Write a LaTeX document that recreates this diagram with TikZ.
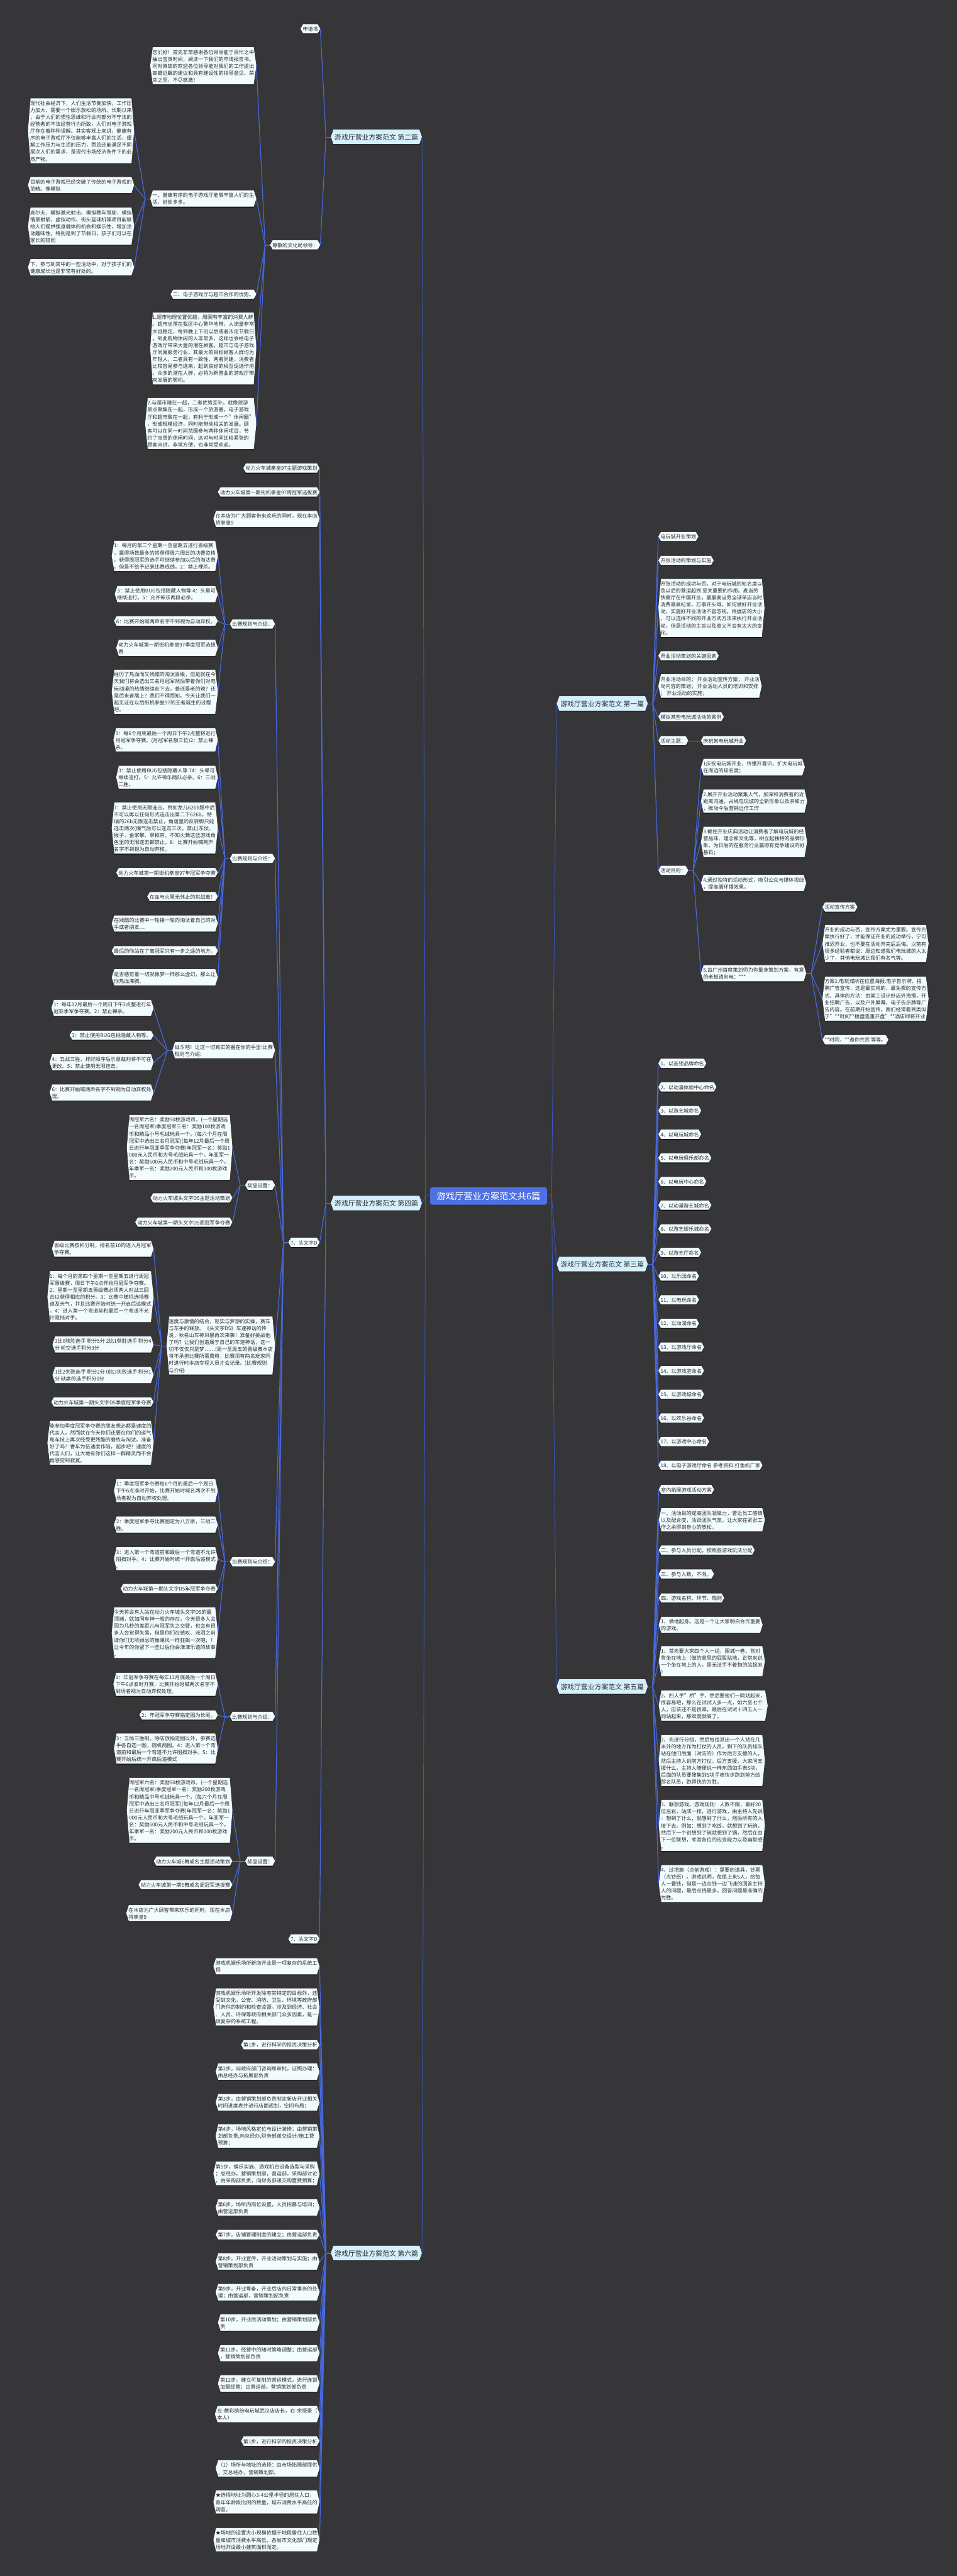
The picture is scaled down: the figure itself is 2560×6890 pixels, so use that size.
\documentclass[tikz,border=0pt]{standalone}
\usepackage{fontspec}
\setmainfont{Noto Sans CJK SC}
\usetikzlibrary{calc}
\definecolor{bg}{RGB}{54,54,56}
\definecolor{conn}{RGB}{72,104,222}
\definecolor{conn0}{RGB}{58,86,200}
\definecolor{leaf}{RGB}{242,251,254}
\definecolor{br}{RGB}{212,240,252}
\definecolor{ctr}{RGB}{78,112,226}
\definecolor{tx}{RGB}{45,45,45}
\definecolor{shd}{RGB}{18,18,18}
\tikzset{
 hexfill/.style={fill=bg, path picture={
   \fill[shd] ([xshift=7pt]path picture bounding box.north west) -- ([xshift=-7pt]path picture bounding box.north east) -- (path picture bounding box.east) -- ([xshift=-7pt]path picture bounding box.south east) -- ([xshift=7pt]path picture bounding box.south west) -- (path picture bounding box.west) -- cycle;
   \fill[#1] ([xshift=7pt]path picture bounding box.north west) -- ([xshift=-7pt]path picture bounding box.north east) -- ([yshift=1pt]path picture bounding box.east) -- ([xshift=-7pt,yshift=2pt]path picture bounding box.south east) -- ([xshift=7pt,yshift=2pt]path picture bounding box.south west) -- ([yshift=1pt]path picture bounding box.west) -- cycle;
 }},
 leafn/.style={hexfill=leaf, text=tx, font=\fontsize{13.6}{18.65}\selectfont, align=left, inner xsep=6pt, inner ysep=7pt},
 brn/.style={hexfill=br, text=tx, font=\fontsize{18.3}{22}\selectfont, inner xsep=10pt, inner ysep=12pt},
 ctrn/.style={fill=ctr, rounded corners=6pt, text=white, font=\fontsize{24}{28}\selectfont, inner xsep=18pt, inner ysep=12pt},
 cl/.style={draw=conn, line width=2pt},
 cl0/.style={draw=conn0, line width=1.5pt},
}
\newcommand\LN[4]{\node[leafn,anchor=east] (#1) at (#2,#3) {#4};}
\newcommand\RN[4]{\node[leafn,anchor=west] (#1) at (#2,#3) {#4};}
\newcommand\fanL[2]{\draw[cl] (#1.west) -- ++(-13,0) coordinate (F#1); \foreach \c in {#2}{\draw[cl] (F#1) -- (\c.east);}}
\newcommand\fanR[2]{\draw[cl] (#1.east) -- ++(13,0) coordinate (F#1); \foreach \c in {#2}{\draw[cl] (F#1) -- (\c.west);}}
\begin{document}
\begin{tikzpicture}[x=1pt,y=-1pt]
\fill[bg] (0,0) rectangle (2560,6890);
\useasboundingbox (0,0) rectangle (2560,6890);
% center and branches
\node[ctrn] (c) at (1307,3199) {游戏厅营业方案范文共6篇};
\node[brn,anchor=east] (b2) at (1129,367) {游戏厅营业方案范文 第二篇};
\node[brn,anchor=east] (b4) at (1129,3219) {游戏厅营业方案范文 第四篇};
\node[brn,anchor=east] (b6) at (1129,6027) {游戏厅营业方案范文 第六篇};
\node[brn,anchor=west] (b1) at (1489,1883) {游戏厅营业方案范文 第一篇};
\node[brn,anchor=west] (b3) at (1489,3382) {游戏厅营业方案范文 第三篇};
\node[brn,anchor=west] (b5) at (1489,4512) {游戏厅营业方案范文 第五篇};
% ---- 第二篇
\LN{a1}{857}{78}{申请书}
\LN{a2}{857}{656}{尊敬的文化局领导：}
\LN{a21}{686}{177}{您们好！首先非常感谢各位领导能于百忙之中\\抽出宝贵时间，阅读一下我们的申请报告书。\\同时真挚的欢迎各位领导能对我们的工作提出\\高瞻远瞩的建议和具有建设性的指导意见，荣\\幸之至，不尽感激！}
\LN{a22}{686}{532}{一、健康有序的电子游戏厅能够丰富人们的生\\活，好处多多。}
\LN{a23}{686}{788}{二、电子游戏厅与超市合作的优势。}
\LN{a24}{686}{933}{1.超市地理位置优越，周围有丰富的消费人群\\。超市坐落在我区中心繁华地带，人流量非常\\大且稳定，每到晚上下班以后或者法定节假日\\，到此购物休闲的人非常多，这样也会给电子\\游戏厅带来大量的潜在顾客。超市与电子游戏\\厅同属服务行业，其最大的目标顾客人群均为\\年轻人，二者具有一致性，两者同建，消费者\\比较容易参与进来，起到良好的相互促进作用\\。众多的潜在人群，必将为新营业的游戏厅带\\来发展的契机。}
\LN{a25}{686}{1134}{2.与超市建在一起，二者优势互补。就像旅游\\景点聚集在一起，形成一个旅游圈。电子游戏\\厅和超市聚在一起，有利于形成一个"休闲圈"\\，形成规模经济，同时能带动相关的发展。顾\\客可以在同一时间范围参与两种休闲项目，节\\约了宝贵的休闲时间，这对与时间比较紧张的\\顾客来讲，非常方便，也非常受欢迎。}
\LN{a221}{359}{351}{现代社会经济下，人们生活节奏加快，工作压\\力加大，需要一个娱乐放松的场所。长期以来\\，由于人们的惯性思维和行业内部分不守法的\\经营者的不法经营行为所致，人们对电子游戏\\厅存在着种种误解。其实客观上来讲，健康有\\序的电子游戏厅不仅能够丰富人们的生活，缓\\解工作压力与生活的压力，而且还能满足不同\\层次人们的需求，是现代市场经济条件下的必\\然产物。}
\LN{a222}{359}{496}{目前的电子游戏已经突破了传统的电子游戏的\\范畴。像模拟}
\LN{a223}{359}{606}{高尔夫、模拟激光射击、模拟赛车驾驶、模拟\\情景射箭、虚拟动作、街头篮球机等项目能够\\给人们提供强身健体的机会和娱乐性，增加活\\动趣味性。特别是到了节假日，孩子们可以在\\家长的陪同}
\LN{a224}{359}{716}{下，参与到其中的一些活动中，对于孩子们的\\健康成长也是非常有好处的。}
% ---- 第四篇
\LN{d1}{855}{1253}{动力火车城拳皇97主题游戏策划}
\LN{d2}{855}{1317}{动力火车城第一期街机拳皇97周冠军选拔赛}
\LN{d3}{855}{1389}{在本店为广大顾客带来欢乐的同时，现在本店\\将拳皇9}
\LN{d4}{855}{3324}{7、头文字D}
\LN{d5}{855}{5187}{7、头文字D}
\LN{r1}{736}{1670}{比赛规则与介绍：}
\LN{r2}{736}{2297}{比赛规则与介绍：}
\LN{r3}{736}{2810}{战斗吧！让这一切真实的握在你的手里!比赛\\规则与介绍:}
\LN{r4}{736}{3171}{奖品设置：}
\LN{r5}{736}{3600}{速度与激情的结合，现实与梦想的实操，赛车\\与车手的释放。《头文字D5》车速神话的传\\说，秋名山车神风暴再次来袭！准备好挑战他\\了吗？让我们创造属于自己的车速神话，这一\\切不仅仅只是梦……(周一至周五的晋级赛本店\\将不承担比赛所需费用，比赛须有两名玩家同\\时进行时本店专程人员才会记录。)比赛规则\\与介绍:}
\LN{r6}{736}{4178}{比赛规则与介绍：}
\LN{r7}{736}{4592}{比赛规则与介绍：}
\LN{r8}{736}{4979}{奖品设置：}
\LN{r1a}{583}{1488}{1：每月的第二个星期一至星期五进行晋级赛\\，赢得场数最多的将获得周六周日的决赛资格\\。获得周冠军的选手可继续参加以后的淘汰赛\\，但是不给予记录比赛成绩。2：禁止裸杀。}
\LN{r1b}{583}{1590}{3：禁止使用BUG包括隐藏人物等 4：头晕可\\继续追打。5：允许神乐两段必杀。}
\LN{r1c}{583}{1662}{6：比赛开始喊两声名字不到视为自动弃权。}
\LN{r1d}{583}{1734}{动力火车城第一期街机拳皇97季度冠军选拔\\赛}
\LN{r1e}{583}{1851}{经历了热血而又残酷的淘汰晋级，但是就在今\\天我们将会选出三名月冠军然后带着你们对电\\玩动漫的热情继续走下去。姜还是老的辣？还\\是后来者居上？我们不得而知。今天让我们一\\起见证在以后街机拳皇97的王者诞生的过程\\吧。}
\LN{r2a}{583}{1980}{1：每6个月底最后一个周日下午2点整将进行\\月冠军争夺赛。(月冠军名额三位)2：禁止裸\\杀。}
\LN{r2b}{583}{2080}{3：禁止使用BUG包括隐藏人等 74：头晕可\\继续追打。5：允许神乐两队必杀。6：三战\\二胜。}
\LN{r2c}{583}{2216}{7：禁止使用无限连击，例如龙儿626b踢中后\\不可以再以任何形式连击出第二下626b，特\\瑞的26b无限连击禁止，角落里的反转脚只能\\连击两次(爆气后可以连击三次，禁止)东仗、\\猴子、金家攀、草稚京、不知火舞这些游戏角\\色里的无限连击都禁止。8：比赛开始喊两声\\名字不到视为自动弃权。}
\LN{r2d}{583}{2335}{动力火车城第一期街机拳皇97年冠军争夺赛}
\LN{r2e}{583}{2399}{在血与火里无休止的挑战着！}
\LN{r2f}{583}{2471}{在残酷的比赛中一轮接一轮的淘汰着自己的对\\手或者朋友…}
\LN{r2g}{583}{2544}{最后的你站在了离冠军只有一步之遥的地方。}
\LN{r2h}{583}{2615}{是否感觉着一切就像梦一样那么虚幻，那么让\\你热血沸腾。}
\LN{r3a}{411}{2697}{1：每年12月最后一个周日下午2点整进行年\\冠亚季军争夺赛。2：禁止裸杀。}
\LN{r3b}{411}{2770}{3：禁止使用BUG包括隐藏人物等。}
\LN{r3c}{411}{2842}{4：五战三胜，排好顺序后示意裁判将不可在\\更改。5：禁止使用无限连击。}
\LN{r3d}{411}{2923}{6：比赛开始喊两声名字不到视为自动弃权处\\理。}
\LN{r4a}{622}{3070}{周冠军六名：奖励50枚游戏币。(一个星期选\\一名周冠军)季度冠军三名：奖励100枚游戏\\币和精品小号毛绒玩具一个。(每六个月在周\\冠军中选出三名月冠军)(每年12月最后一个周\\日进行年冠亚季军争夺赛)年冠军一名：奖励1\\000元人民币和大号毛绒玩具一个。年亚军一\\名：奖励600元人民币和中号毛绒玩具一个。\\年季军一名：奖励200元人民币和100枚游戏\\币。}
\LN{r4b}{622}{3205}{动力火车城头文字D5主题活动策划}
\LN{r4c}{622}{3270}{动力火车城第一期头文字D5周冠军争夺赛}
\LN{r5a}{411}{3341}{晋级比赛按积分制，排名前10的进入月冠军\\争夺赛。}
\LN{r5b}{411}{3469}{1：每个月的第四个星期一至星期五进行周冠\\军晋级赛，周日下午6点开始月冠军争夺赛。\\2：星期一至星期五晋级赛必须两人对战三回\\合以获得相应的积分。3：比赛中随机选择赛\\道及天气，并且比赛开始时统一开启后追模式\\。4：进入第一个弯道前和最后一个弯道不允\\许阻挡对手。}
\LN{r5c}{411}{3597}{3比0获胜选手 积分5分 2比1获胜选手 积分4\\分 轮空选手积分3分}
\LN{r5d}{411}{3679}{1比2失败选手 积分2分 0比3失败选手 积分1\\分 缺席的选手积分0分}
\LN{r5e}{411}{3751}{动力火车城第一期头文字D5季度冠军争夺赛}
\LN{r5f}{411}{3860}{能参加季度冠军争夺赛的朋友想必都是速度的\\代言人，然而就在今天你们还要在你们的运气\\和车技上再次经受更残酷的磨练与淘汰。准备\\好了吗？香车为伍速度作陪，起步吧！速度的\\代言人们，让大地有你们这样一群精灵而不会\\再感觉到寂寞。}
\LN{r6a}{583}{3988}{1：季度冠军争夺赛每6个月的最后一个周日\\下午6点准时开始，比赛开始时喊名两次不到\\场者视为自动弃权处理。}
\LN{r6b}{583}{4079}{2：季度冠军争夺比赛图定为八方原，三战二\\胜。}
\LN{r6c}{583}{4170}{3：进入第一个弯道前和最后一个弯道不允许\\阻挡对手。4：比赛开始时统一开启后追模式\\。}
\LN{r6d}{583}{4250}{动力火车城第一期头文字D5年冠军争夺赛}
\LN{r6e}{583}{4368}{今天将会有人站在动力火车城头文字D5的最\\顶端，就如同车神一般的存在。今天很多人会\\因为几秒的差距儿与冠军失之交臂，也会有很\\多人会觉得失落，但是你们在感叹、流泪之前\\请你们无所顾忌的像飓风一样狂飙一次吧，！\\让今年的你留下一些以后你会津津乐道的故事\\。}
\LN{r7a}{583}{4506}{1：年冠军争夺赛在每年12月底最后一个周日\\下午6点准时开赛，比赛开始时喊两次名字不\\到场者视为自动弃权处理。}
\LN{r7b}{583}{4588}{2：年冠军争夺赛指定图为长尾。}
\LN{r7c}{583}{4678}{3：五局三胜制。除店放指定图以外，参赛选\\手各自选一图，随机两图。4：进入第一个弯\\道前和最后一个弯道不允许阻挡对手。5：比\\赛开始后统一开启后追模式}
\LN{r8a}{622}{4843}{周冠军六名：奖励50枚游戏币。(一个星期选\\一名周冠军)季度冠军一名：奖励200枚游戏\\币和精品中号毛绒玩具一个。(每六个月在周\\冠军中选出三名月冠军)(每年12月最后一个周\\日进行年冠亚季军争夺赛)年冠军一名：奖励1\\000元人民币和大号毛绒玩具一个。年亚军一\\名：奖励600元人民币和中号毛绒玩具一个。\\年季军一名：奖励200元人民币和100枚游戏\\币。}
\LN{r8b}{622}{4979}{动力火车城E舞成名主题活动策划}
\LN{r8c}{622}{5042}{动力火车城第一期E舞成名周冠军选拔赛}
\LN{r8d}{622}{5118}{在本店为广大顾客带来欢乐的同时，现在本店\\将拳皇9}
% ---- 第六篇
\LN{s1}{855}{5260}{游戏机娱乐场所新店开业是一项复杂的系统工\\程}
\LN{s2}{855}{5369}{游戏机娱乐场所开发除有其特定的目标外，还\\受到文化，公安、消防、卫生、环境等政府部\\门条件的制约和检查监督。涉及到经济、社会\\、人员、环保等政府相关部门众多因素，是一\\项复杂的系统工程。}
\LN{s3}{855}{5470}{第1步，进行科学的投资决策分析}
\LN{s4}{855}{5542}{第2步，向政府部门咨询和审批，证照办理：\\由总经办与拓展部负责}
\LN{s5}{855}{5624}{第3步，由营销策划部负责制定新店开业相关\\时间进度表并进行店面规划，空间布局；}
\LN{s6}{855}{5714}{第4步，场地风格定位与设计装修；由营销策\\划部负责,向总经办,财务部递交设计/施工费\\预算；}
\LN{s7}{855}{5814}{第5步，娱乐实施、游戏机台设备选型与采购\\；总经办，营销策划部，营运部，采购部讨论\\，由采购部负责，向财务部递交购置费预算；}
\LN{s8}{855}{5905}{第6步，场所内岗位设置，人员招募与培训；\\由营运部负责}
\LN{s9}{855}{5978}{第7步，店铺管理制度的建立；由营运部负责}
\LN{s10}{855}{6050}{第8步，开业宣传，开业活动策划与实施；由\\营销策划部负责}
\LN{s11}{855}{6132}{第9步，开业筹备，开业后店内日常事务的处\\理；由营运部，营销策划部负责}
\LN{s12}{855}{6213}{第10步，开业后活动策划；由营销策划部负\\责}
\LN{s13}{855}{6295}{第11步，经营中的随时策略调整；由营运部\\，营销策划部负责}
\LN{s14}{855}{6376}{第12步，建立可复制的营运模式，进行连锁\\加盟经营；由营运部，营销策划部负责}
\LN{s15}{855}{6458}{左-舞彩缤纷电玩城武汉店店长，右-余振豪（\\本人）}
\LN{s16}{855}{6530}{第1步，进行科学的投资决策分析}
\LN{s17}{855}{6603}{（1）场所与地址的选择：由市场拓展部提供\\，交总经办，营销策划部。}
\LN{s18}{855}{6693}{★选择地址为圆心3-4公里半径的居住人口，\\青年年龄段比例的数量，城市消费水平高低的\\调查。}
\LN{s19}{855}{6794}{★场地的设置大小规模依据于地段居住人口数\\量和城市消费水平高低，各省市文化部门规定\\场地开设最小建筑面积而定。}
% ---- 第一篇
\RN{e1}{1761}{1436}{电玩城开业策划}
\RN{e2}{1761}{1500}{开张活动的策划与实施}
\RN{e3}{1761}{1627}{开张活动的成功与否，对于电玩城的知名度以\\及以后的营运起到 至关重要的作用。麦当劳\\快餐厅在中国开业，屡屡麦当劳全球单店当时\\消费最高纪录，万事开头难，如何做好开业活\\动，实施好开业活动不容忽视。根据店的大小\\，可以选择不同的开业方式方法来执行开业活\\动，但是活动的主旨以及意义不会有太大的变\\化。}
\RN{e4}{1761}{1755}{开业活动策划的关键因素}
\RN{e5}{1761}{1836}{开业活动目的； 开业活动宣传方案； 开业活\\动内容的策划； 开业活动人员的培训和安排\\； 开业活动的实施；}
\RN{e6}{1761}{1918}{模拟某些电玩城活动的案例}
\RN{e7}{1761}{1982}{活动主题：}
\RN{e8}{1761}{2329}{活动目的：}
\RN{e71}{1875}{1982}{庆祝某电玩城开业}
\RN{e81}{1875}{2053}{1庆祝电玩城开业，传播开喜讯，扩大电玩城\\在周边的知名度；}
\RN{e82}{1875}{2144}{2.展开开业活动聚集人气，加深和消费者的近\\距离沟通，占线电玩城的全新形象以及亲和力\\，推动今后营销运作工作}
\RN{e83}{1875}{2253}{3.截住开业庆典活动让消费者了解电玩城的经\\营品味、理念和文化等，树立起独特的品牌形\\象，为日后的在服务行业赢得有竞争建设的好\\基石；}
\RN{e84}{1875}{2363}{4.通过独特的活动形式，吸引公众与媒体视线\\，提高循环播效果。}
\RN{e85}{1875}{2604}{5.由广州首席策划师为你量身策划方案，有意\\的老板请来电：***}
\RN{e851}{2200}{2427}{活动宣传方案}
\RN{e852}{2200}{2525}{开业的成功与否，宣传方案尤为重要。宣传方\\案执行好了，才能保证开业的成功举行，宁可\\推迟开业，也不要在活动开完后后悔。以前有\\很多经验者都说：周边知道我们电玩城的人太\\少了，其他电玩城比我们有名气等。}
\RN{e853}{2200}{2672}{方案1.电玩城所在位置海报.电子告示牌、招\\聘广告宣传：这是最实用的，最免费的宣传方\\式，具体的方法：由美工设计好店外海报，开\\业招聘广告，以及户外屏幕，电子告示牌等广\\告内容。在前期开始宣传。我们经常看到类似\\于"**时间**楼盘隆重开盘"**酒店即将开业}
\RN{e854}{2200}{2782}{**时间，**邀你共赏 等等。}
% ---- 第三篇
\foreach \i/\t in {1/1、以连锁品牌命名,2/2、以动漫体验中心命名,3/3、以游艺城命名,4/4、以电玩城命名,5/5、以电玩俱乐部命名,6/6、以电玩中心命名,7/7、以动漫游艺城命名,8/8、以游艺娱乐城命名,9/9、以游艺厅命名,10/10、以乐园命名,11/11、以电玩命名,12/12、以动漫命名,13/13、以游戏厅命名,14/14、以游戏室命名,15/15、以游戏城命名,16/16、以欢乐谷命名,17/17、以游戏中心命名,18/18、以电子游戏厅命名 参考资料:打鱼机厂家}
 {\node[leafn,anchor=west] (n\i) at (1761,{2845+(\i-1)*63.24}) {\t};}
% ---- 第五篇
\RN{g1}{1762}{3985}{室内拓展游戏活动方案}
\RN{g2}{1762}{4066}{一、活动目的提高团队凝聚力，曾近员工感情\\以及配合度，活跃团队气氛，让大家在紧张工\\作之余得到身心的放松。}
\RN{g3}{1762}{4147}{二、参与人员分配，按照各游戏玩法分配}
\RN{g4}{1762}{4211}{三、参与人数，不限。}
\RN{g5}{1762}{4275}{四、游戏名称、环节、规则}
\RN{g6}{1762}{4347}{1、做地起身。这是一个让大家明白合作重要\\的游戏。}
\RN{g7}{1762}{4444}{1、首先要大家四个人一组，围城一卷，背对\\背坐在地上（做的意思的屁股贴地，正常来说\\一个坐在地上的人，是无法手不着物的站起来\\）}
\RN{g8}{1762}{4563}{2、四人手"桥"手，然后要他们一同站起来，\\很容易吧，那么在试试人多一点，如六至七个\\人，应该还不是很难，最后在试试十四五人一\\同站起来，那难度就高了。}
\RN{g9}{1762}{4710}{2、先进行分组，然后每组派出一个人站在几\\米外的地方作为打仗的人员，剩下的队员排队\\站在他们后面（对应的）作为后方支援的人，\\然后主持人说前方打仗，后方支援，大家问支\\援什么，主持人随便说一样东西如手表5块，\\后面的队员要搜集到5块手表快步跑到前方给\\那名队员，跑得快的为胜。}
\RN{g10}{1762}{4883}{3、联想游戏。游戏规则：人数不限，最好20\\位左右，站成一排，进行游戏，由主持人先说\\：想到了什么，就想到了什么，然后所有的人\\接下去。例如：想到了吃饭，就想到了玩碗，\\然后下一个说想到了碗就想到了锅，然后在由\\下一位联想，考验各位的应变能力以及幽默感\\。}
\RN{g11}{1762}{5039}{4、过把瘾（点前游戏）：需要的道具，钞票\\（点钞纸）。游戏说明，每组上来5人，给每\\人一叠钱，但是一边点钱一边飞速的回答主持\\人的问题，最后点钱最多，回答问题最准确的\\为胜。}
% ---- connectors
\draw[cl0] (c.west) -- ++(-12,0) coordinate (Fc);
\foreach \b in {b2,b4,b6} {\draw[cl0] (Fc) -- (\b.east);}
\draw[cl0] (c.east) -- ++(12,0) coordinate (Gc);
\foreach \b in {b1,b3,b5} {\draw[cl0] (Gc) -- (\b.west);}
\fanL{b2}{a1,a2}
\fanL{a2}{a21,a22,a23,a24,a25}
\fanL{a22}{a221,a222,a223,a224}
\fanL{b4}{d1,d2,d3,d4,d5}
\fanL{d4}{r1,r2,r3,r4,r5,r6,r7,r8}
\fanL{r1}{r1a,r1b,r1c,r1d,r1e}
\fanL{r2}{r2a,r2b,r2c,r2d,r2e,r2f,r2g,r2h}
\fanL{r3}{r3a,r3b,r3c,r3d}
\fanL{r4}{r4a,r4b,r4c}
\fanL{r5}{r5a,r5b,r5c,r5d,r5e,r5f}
\fanL{r6}{r6a,r6b,r6c,r6d,r6e}
\fanL{r7}{r7a,r7b,r7c}
\fanL{r8}{r8a,r8b,r8c,r8d}
\fanL{b6}{s1,s2,s3,s4,s5,s6,s7,s8,s9,s10,s11,s12,s13,s14,s15,s16,s17,s18,s19}
\fanR{b1}{e1,e2,e3,e4,e5,e6,e7,e8}
\fanR{e7}{e71}
\fanR{e8}{e81,e82,e83,e84,e85}
\fanR{e85}{e851,e852,e853,e854}
\fanR{b3}{n1,n2,n3,n4,n5,n6,n7,n8,n9,n10,n11,n12,n13,n14,n15,n16,n17,n18}
\fanR{b5}{g1,g2,g3,g4,g5,g6,g7,g8,g9,g10,g11}
\end{tikzpicture}
\end{document}
